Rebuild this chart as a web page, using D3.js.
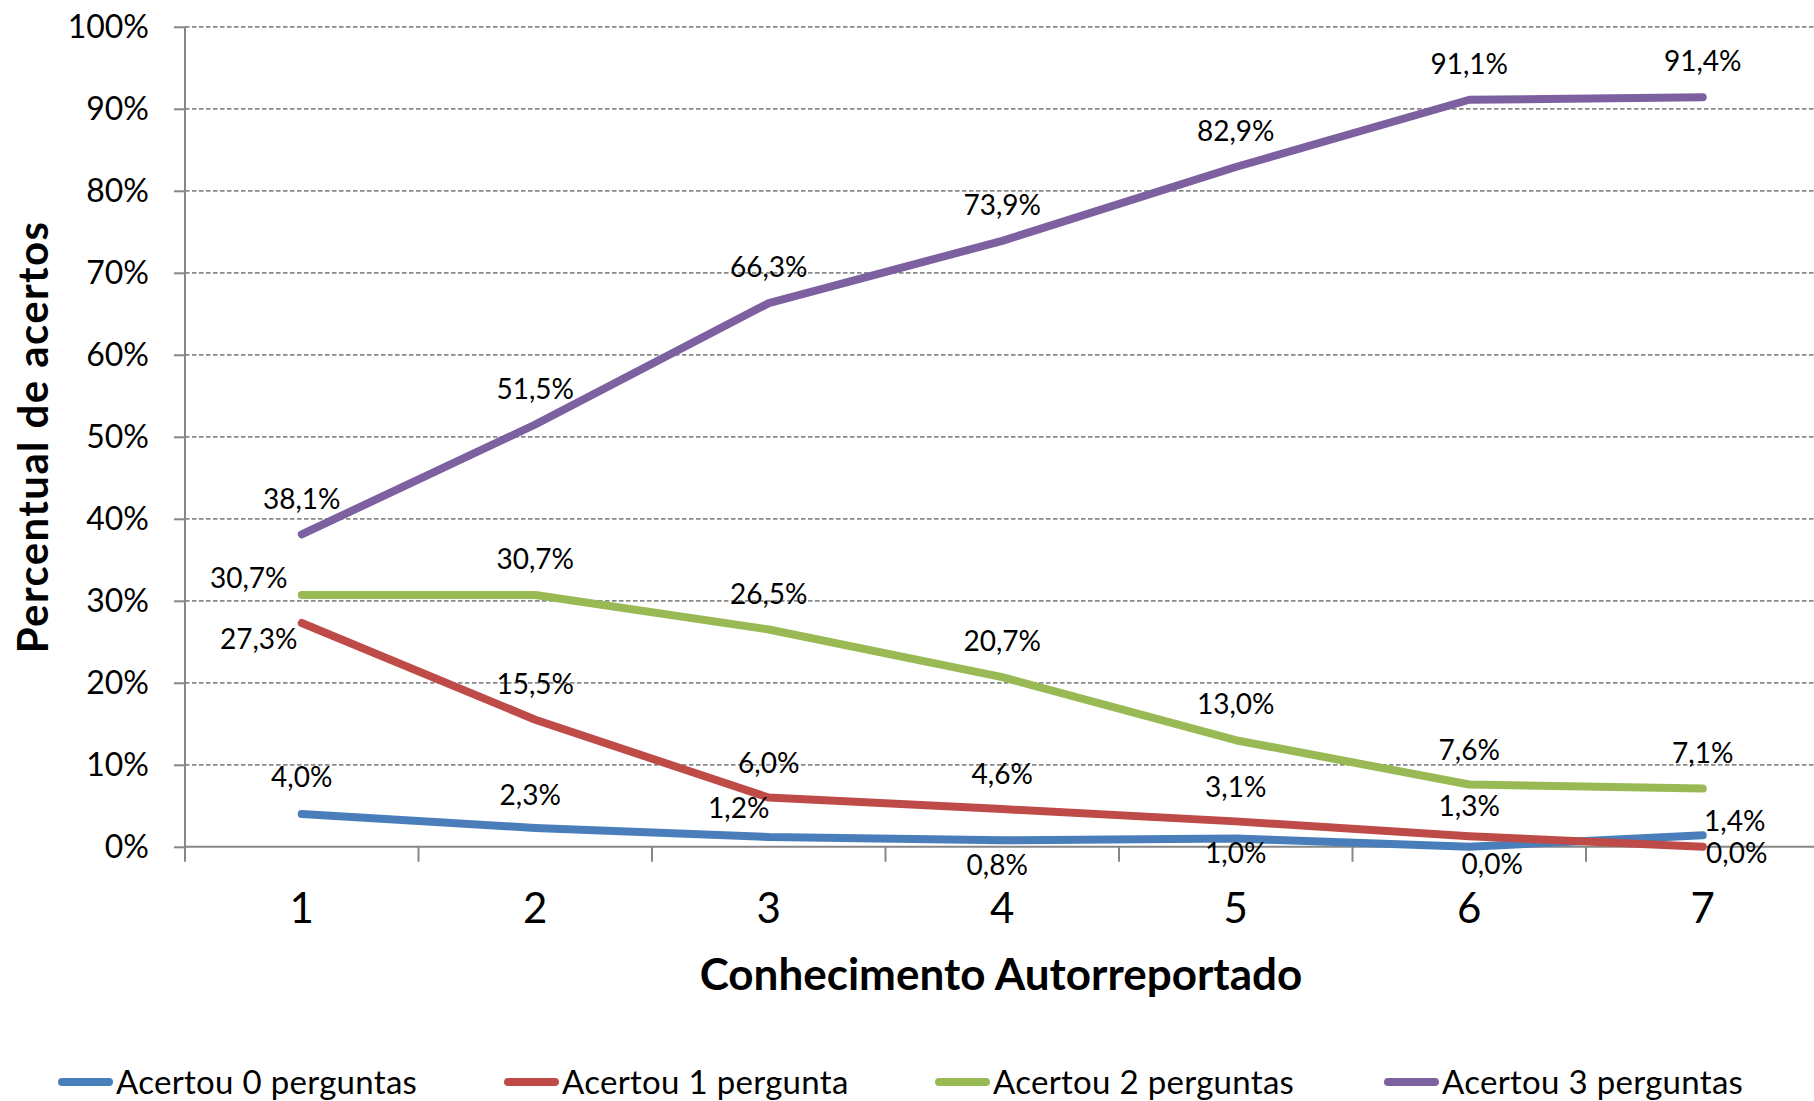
<!DOCTYPE html>
<html>
<head>
<meta charset="utf-8">
<script src="https://cdn.jsdelivr.net/npm/d3@7"></script>
<style>
  html, body { margin: 0; padding: 0; background: #fff; }
  svg { display: block; }
  text { font-family: Lato, "Open Sans", sans-serif; fill: #000; }
</style>
</head>
<body>
<svg id="chart" width="1814" height="1101"></svg>
<script>
// ---- data ----
const categories = [1, 2, 3, 4, 5, 6, 7];
const seriesNames = ["Acertou 0 perguntas", "Acertou 1 pergunta", "Acertou 2 perguntas", "Acertou 3 perguntas"];
const acertou0 = [4.0, 2.3, 1.2, 0.8, 1.0, 0.0, 1.4];
const acertou1 = [27.3, 15.5, 6.0, 4.6, 3.1, 1.3, 0.0];
const acertou2 = [30.7, 30.7, 26.5, 20.7, 13.0, 7.6, 7.1];
const acertou3 = [38.1, 51.5, 66.3, 73.9, 82.9, 91.1, 91.4];
const yTicks = [0, 10, 20, 30, 40, 50, 60, 70, 80, 90, 100];
const xTitle = "Conhecimento Autorreportado";
const yTitle = "Percentual de acertos";

// ---- styling / layout config ----
const colors = ["#4a7ebb", "#be4b48", "#98b954", "#7d60a0"];
// label offsets [dx, dy] relative to each point (layout only)
const labelOffsets = [
  [[0,-37],[-5,-33],[-30,-29],[-5,25],[0,14],[23,17],[32,-14]],
  [[-43,16],[0,-36],[0,-35],[0,-35],[0,-34],[0,-30],[34,6]],
  [[-53,-17],[0,-36],[0,-36],[0,-36],[0,-36],[0,-35],[0,-36]],
  [[0,-35],[0,-36],[0,-36],[0,-36],[0,-36],[0,-36],[0,-36]]
];
const legendX = [58, 504, 935, 1384];

const seriesValues = [acertou0, acertou1, acertou2, acertou3];

const svg = d3.select("#chart");
const plotLeft = 185, plotTop = 26.8, plotBottom = 846.8, plotRight = 1819.5;

const x = d3.scaleBand().domain(categories).range([plotLeft, plotRight]).paddingInner(0).paddingOuter(0);
const y = d3.scaleLinear().domain([0, 100]).range([plotBottom, plotTop]);
const cx = c => x(c) + x.bandwidth() / 2;

// gridlines
svg.append("g").selectAll("line").data(yTicks.filter(t => t > 0)).join("line")
  .attr("x1", plotLeft).attr("x2", 1814)
  .attr("y1", d => y(d)).attr("y2", d => y(d))
  .attr("stroke", "#898989").attr("stroke-width", 1.8).attr("stroke-dasharray", "4.5,2.5");

// y axis
const yAxis = d3.axisLeft(y).tickValues(yTicks).tickFormat(d => d + "%").tickSize(11).tickPadding(25);
const gy = svg.append("g").attr("transform", `translate(${plotLeft},0)`).call(yAxis);
gy.select(".domain").remove();
gy.selectAll(".tick line").attr("stroke", "#878787").attr("stroke-width", 2);
gy.selectAll(".tick text").style("font-size", "32px").style("font-family", "Lato, 'Open Sans', sans-serif").attr("fill", "#000");
svg.append("line").attr("x1", plotLeft).attr("x2", plotLeft).attr("y1", plotTop).attr("y2", plotBottom + 15)
  .attr("stroke", "#878787").attr("stroke-width", 2);

// x axis
const gx = svg.append("g").attr("transform", `translate(0,${plotBottom})`)
  .call(d3.axisBottom(x).tickSize(0).tickPadding(44));
gx.select(".domain").remove();
gx.selectAll(".tick text").style("font-size", "42px").style("font-family", "Lato, 'Open Sans', sans-serif").attr("fill", "#000").attr("dy", "0.36em").attr("y", 61);
svg.append("line").attr("x1", plotLeft).attr("x2", 1814).attr("y1", plotBottom).attr("y2", plotBottom)
  .attr("stroke", "#878787").attr("stroke-width", 2);
svg.append("g").selectAll("line").data(categories.slice(1)).join("line")
  .attr("x1", d => x(d)).attr("x2", d => x(d))
  .attr("y1", plotBottom).attr("y2", plotBottom + 15)
  .attr("stroke", "#878787").attr("stroke-width", 2);

// axis titles
svg.append("text").attr("x", 1001).attr("y", 974).attr("dy", "0.36em")
  .attr("text-anchor", "middle").style("font-size", "44px").style("font-weight", "bold").text(xTitle);
svg.append("text").attr("transform", "translate(33,437) rotate(-90)").attr("dy", "0.36em")
  .attr("text-anchor", "middle").style("font-size", "42px").style("font-weight", "bold")
  .style("letter-spacing", "1.4px").text(yTitle);

// lines
const line = d3.line().x((d, i) => cx(categories[i])).y(d => y(d));
seriesValues.forEach((vals, s) => {
  svg.append("path").datum(vals).attr("d", line)
    .attr("fill", "none").attr("stroke", colors[s]).attr("stroke-width", 8)
    .attr("stroke-linejoin", "round").attr("stroke-linecap", "round");
});

// data labels
const fmt = v => v.toFixed(1).replace(".", ",") + "%";
seriesValues.forEach((vals, s) => {
  svg.append("g").selectAll("text").data(vals).join("text")
    .attr("x", (d, i) => cx(categories[i]) + labelOffsets[s][i][0])
    .attr("y", (d, i) => y(d) + labelOffsets[s][i][1])
    .attr("dy", "0.36em").attr("text-anchor", "middle")
    .style("font-size", "28px").text(d => fmt(d));
});

// legend
const lg = svg.append("g");
seriesNames.forEach((name, s) => {
  lg.append("line").attr("x1", legendX[s] + 4).attr("x2", legendX[s] + 51).attr("y1", 1082).attr("y2", 1082)
    .attr("stroke", colors[s]).attr("stroke-width", 8).attr("stroke-linecap", "round");
  lg.append("text").attr("x", legendX[s] + 58).attr("y", 1082).attr("dy", "0.36em")
    .style("font-size", "33px").style("letter-spacing", "0.3px").text(name);
});
</script>
</body>
</html>
